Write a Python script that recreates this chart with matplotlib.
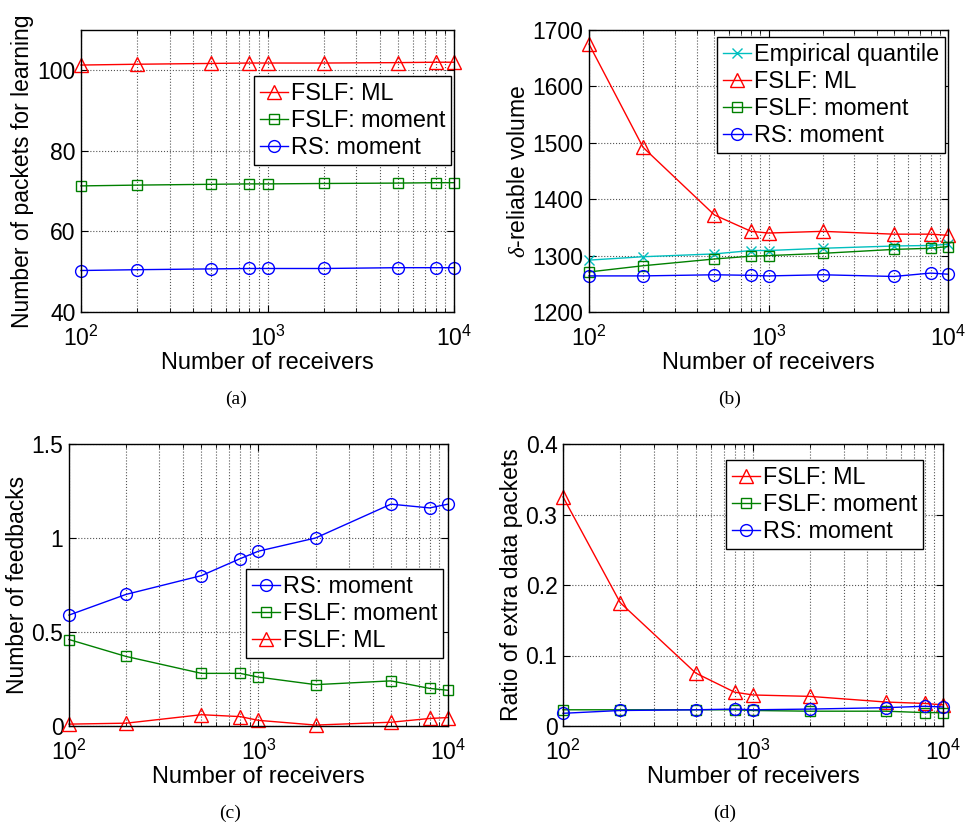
import matplotlib
matplotlib.use("Agg")
import matplotlib.pyplot as plt
from matplotlib.ticker import LogLocator, NullLocator, FixedLocator, FixedFormatter

plt.rcParams['font.family'] = ['Liberation Sans', 'DejaVu Sans']
plt.rcParams['mathtext.fontset'] = 'custom'
plt.rcParams['mathtext.rm'] = 'Liberation Sans'
plt.rcParams['mathtext.it'] = 'Liberation Serif:italic'

# ---------------- data ----------------
receivers = [100, 200, 500, 800, 1000, 2000, 5000, 8000, 10000]

# (a) number of packets for learning
a_ml = [101.3, 101.5, 101.7, 101.8, 101.8, 101.8, 101.9, 102.0, 102.0]
a_fslf_moment = [71.3, 71.5, 71.7, 71.8, 71.8, 71.9, 72.0, 72.1, 72.1]
a_rs_moment = [50.3, 50.5, 50.7, 50.8, 50.8, 50.8, 51.0, 51.0, 51.0]

# (b) delta-reliable volume
b_empirical = [1292, 1298, 1303, 1309, 1309, 1313, 1317, 1318, 1320]
b_ml = [1675, 1492, 1372, 1343, 1340, 1343, 1338, 1338, 1336]
b_fslf_moment = [1271, 1282, 1294, 1299, 1300, 1304, 1311, 1313, 1316]
b_rs_moment = [1264, 1264, 1266, 1265, 1264, 1266, 1263, 1269, 1267]

# (c) number of feedbacks
c_rs_moment = [0.59, 0.70, 0.80, 0.89, 0.93, 1.00, 1.18, 1.16, 1.18]
c_fslf_moment = [0.46, 0.37, 0.28, 0.28, 0.26, 0.22, 0.24, 0.20, 0.19]
c_ml = [0.010, 0.015, 0.060, 0.050, 0.030, 0.005, 0.020, 0.040, 0.045]

# (d) ratio of extra data packets
d_ml = [0.325, 0.175, 0.075, 0.048, 0.044, 0.042, 0.034, 0.032, 0.030]
d_fslf_moment = [0.023, 0.023, 0.023, 0.023, 0.022, 0.021, 0.021, 0.019, 0.019]
d_rs_moment = [0.018, 0.022, 0.023, 0.024, 0.023, 0.024, 0.026, 0.028, 0.027]

a_yticks = [40, 60, 80, 100]
a_ylabels = ['40', '60', '80', '100']
b_yticks = [1200, 1300, 1400, 1500, 1600, 1700]
b_ylabels = ['1200', '1300', '1400', '1500', '1600', '1700']
c_yticks = [0, 0.5, 1, 1.5]
c_ylabels = ['0', '0.5', '1', '1.5']
d_yticks = [0, 0.1, 0.2, 0.3, 0.4]
d_ylabels = ['0', '0.1', '0.2', '0.3', '0.4']

W, H = 966, 823
fig = plt.figure(figsize=(W / 100, H / 100), dpi=100)

def add_ax(l, r, t, b):
    return fig.add_axes([l / W, 1 - b / H, (r - l) / W, (b - t) / H])

TICK_FS = 16.5
XLABEL_FS = 17
YLABEL_FS = 16.5
LEG_FS = 16.8
styles = {
    'ml': dict(color='#ff0000', marker='^', markersize=9.5, markerfacecolor='none', markeredgewidth=1.0, lw=1.0),
    'fm': dict(color='#008000', marker='s', markersize=6.5, markerfacecolor='none', markeredgewidth=1.0, lw=1.0),
    'rs': dict(color='#0000ff', marker='o', markersize=8.5, markerfacecolor='none', markeredgewidth=1.0, lw=1.0),
    'em': dict(color='#00bfbf', marker='x', markersize=6.5, markeredgewidth=1.0, lw=1.0),
}

def style_ax(ax, ylim, yticks, ylabels, ylabel):
    ax.set_xscale('log')
    ax.set_xlim(100, 10000)
    ax.set_ylim(*ylim)
    ax.xaxis.set_major_locator(LogLocator(base=10, numticks=10))
    ax.xaxis.set_minor_locator(LogLocator(base=10, subs=range(2, 10), numticks=100))
    ax.yaxis.set_major_locator(FixedLocator(yticks))
    ax.yaxis.set_major_formatter(FixedFormatter(ylabels))
    ax.yaxis.set_minor_locator(NullLocator())
    ax.tick_params(which='both', direction='in', top=True, right=True, labelsize=TICK_FS)
    ax.tick_params(which='major', length=5, width=0.8)
    ax.tick_params(axis='y', which='major', pad=4)
    ax.tick_params(axis='x', which='major', pad=10)
    ax.tick_params(which='minor', length=3, width=0.6)
    ax.grid(True, which='major', axis='both', linestyle=':', color='#555555', lw=0.8)
    ax.grid(True, which='minor', axis='x', linestyle=':', color='#555555', lw=0.8)
    for s in ax.spines.values():
        s.set_linewidth(1.0)
    ax.set_xlabel('Number of receivers', fontsize=XLABEL_FS, labelpad=1)
    ax.set_ylabel(ylabel, fontsize=YLABEL_FS, labelpad=2)
    for ln in ax.get_lines():
        ln.set_clip_on(False)

def legend(ax, x0, y0):
    lg = ax.legend(loc='upper left', bbox_to_anchor=(x0 / W, 1 - y0 / H),
                   bbox_transform=fig.transFigure, borderaxespad=0,
                   fontsize=LEG_FS, handlelength=1.2, handletextpad=0.12,
                   labelspacing=0.18, borderpad=0.25, fancybox=False,
                   framealpha=1, edgecolor='black')
    lg.get_frame().set_linewidth(1.0)
    lg.set_zorder(10)

# (a)
ax = add_ax(81, 454, 30, 312)
ax.plot(receivers, a_ml, label='FSLF: ML', **styles['ml'])
ax.plot(receivers, a_fslf_moment, label='FSLF: moment', **styles['fm'])
ax.plot(receivers, a_rs_moment, label='RS: moment', **styles['rs'])
style_ax(ax, (40, 110), a_yticks, a_ylabels, 'Number of packets for learning')
legend(ax, 254, 76)
fig.text(236 / W, 1 - 399 / H, '(a)', ha='center', va='center', family='Liberation Serif', fontsize=14)

# (b)
ax = add_ax(589, 948, 30, 312)
ax.plot(receivers, b_empirical, label='Empirical quantile', **styles['em'])
ax.plot(receivers, b_ml, label='FSLF: ML', **styles['ml'])
ax.plot(receivers, b_fslf_moment, label='FSLF: moment', **styles['fm'])
ax.plot(receivers, b_rs_moment, label='RS: moment', **styles['rs'])
style_ax(ax, (1200, 1700), b_yticks, b_ylabels, r'$\delta$-reliable volume')
legend(ax, 717, 37)
fig.text(730 / W, 1 - 399 / H, '(b)', ha='center', va='center', family='Liberation Serif', fontsize=14)

# (c)
ax = add_ax(69, 448, 444, 726)
ax.plot(receivers, c_rs_moment, label='RS: moment', **styles['rs'])
ax.plot(receivers, c_fslf_moment, label='FSLF: moment', **styles['fm'])
ax.plot(receivers, c_ml, label='FSLF: ML', **styles['ml'])
style_ax(ax, (0, 1.5), c_yticks, c_ylabels, 'Number of feedbacks')
legend(ax, 246, 569)
fig.text(230 / W, 1 - 813 / H, '(c)', ha='center', va='center', family='Liberation Serif', fontsize=14)

# (d)
ax = add_ax(563, 943, 444, 726)
ax.plot(receivers, d_ml, label='FSLF: ML', **styles['ml'])
ax.plot(receivers, d_fslf_moment, label='FSLF: moment', **styles['fm'])
ax.plot(receivers, d_rs_moment, label='RS: moment', **styles['rs'])
style_ax(ax, (0, 0.4), d_yticks, d_ylabels, 'Ratio of extra data packets')
legend(ax, 726, 460)
fig.text(725 / W, 1 - 813 / H, '(d)', ha='center', va='center', family='Liberation Serif', fontsize=14)

fig.savefig('out.png', dpi=100)
